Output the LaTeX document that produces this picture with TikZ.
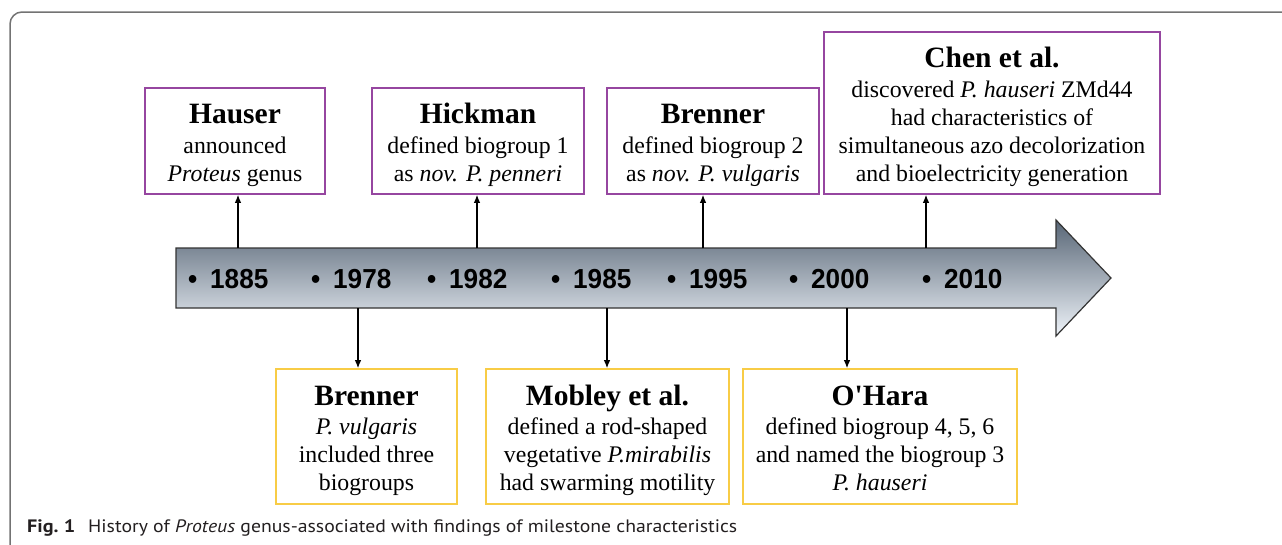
\documentclass[tikz,border=0pt]{standalone}
\usepackage{fontspec}
\setmainfont{Liberation Serif}[Ligatures=TeXOff]
\newfontfamily\yrfont{Liberation Sans}
\newfontfamily\capfont{PT Sans}
\usetikzlibrary{arrows.meta}
\definecolor{pborder}{RGB}{150,70,160}
\definecolor{yborder}{RGB}{248,204,70}
\definecolor{framegray}{RGB}{115,115,115}
\definecolor{arrowdark}{RGB}{88,102,118}
\definecolor{arrowlight}{RGB}{238,243,249}
\definecolor{capblack}{RGB}{35,31,32}
\newcommand\boxtitle[1]{\rule{0pt}{35pt}{\fontsize{29.5}{30}\selectfont\bfseries #1}}
\newcommand\btmtitle[1]{\rule{0pt}{36pt}{\fontsize{29.5}{30}\selectfont\bfseries #1}}
\newcommand\lastln[1]{\rule[-#1pt]{0pt}{#1pt}}
\newcommand\yr[1]{\scalebox{0.95}[1]{\yrfont\bfseries\fontsize{27.5}{30}\selectfont •\hspace{0.5em}#1}}
\begin{document}
\begin{tikzpicture}[x=1pt,y=-1pt,
  box/.style={draw, line width=1.6pt, inner sep=0pt, align=center, font=\fontsize{23.8}{28}\selectfont},
  pbox/.style={box, draw=pborder},
  ybox/.style={box, draw=yborder},
  conn/.style={line width=1.2pt, -{Latex[length=8pt,width=6.5pt]}},
  yrlabel/.style={anchor=base west, inner sep=0pt}]
\useasboundingbox (0,0) rectangle (1282,544);
% outer frame
\draw[framegray, line width=1.5pt, rounded corners=12pt] (1295,12) -- (10,12) -- (10,560);
% timeline arrow
\path[shade, top color=arrowdark, bottom color=arrowlight, draw=black!80, line width=1.2pt]
  (176,248) -- (1056,248) -- (1056,220) -- (1111,278) -- (1056,336) -- (1056,308) -- (176,308) -- cycle;
% years
\node[yrlabel] (y1885) at (187.8,288) {\yr{1885}};
\node[yrlabel] (y1978) at (310.8,288) {\yr{1978}};
\node[yrlabel] (y1982) at (426.8,288) {\yr{1982}};
\node[yrlabel] (y1985) at (550.8,288) {\yr{1985}};
\node[yrlabel] (y1995) at (666.8,288) {\yr{1995}};
\node[yrlabel] (y2000) at (788.8,288) {\yr{2000}};
\node[yrlabel] (y2010) at (921.8,288) {\yr{2010}};
% connector anchors on the timeline
\coordinate (c1885) at (238,248);
\coordinate (c1982) at (477,248);
\coordinate (c1995) at (703,248);
\coordinate (c2010) at (926,248);
\coordinate (c1978) at (358,308);
\coordinate (c1985) at (607,308);
\coordinate (c2000) at (847,308);
% top boxes
\node[pbox, minimum width=180pt, minimum height=106pt] (hauser) at (235,141)
  {\boxtitle{Hauser}\\[2pt] announced\\ \textit{Proteus} genus\lastln{12}};
\node[pbox, minimum width=212pt, minimum height=106pt] (hickman) at (478,141)
  {\boxtitle{Hickman}\\[2pt] defined biogroup 1\\ as \textit{nov. P. penneri}\lastln{12}};
\node[pbox, minimum width=212pt, minimum height=106pt] (brennera) at (713,141)
  {\boxtitle{Brenner}\\[2pt] defined biogroup 2\\ as \textit{nov. P. vulgaris}\lastln{12}};
\node[pbox, minimum width=336pt, minimum height=162pt] (chen) at (992,113)
  {\boxtitle{Chen et al.}\\[2pt] discovered \textit{P. hauseri} ZMd44\\ had characteristics of\\ simultaneous azo decolorization\\ and bioelectricity generation\lastln{12}};
% bottom boxes
\node[ybox, minimum width=181pt, minimum height=135pt] (brennerb) at (366.5,436.5)
  {\btmtitle{Brenner}\\[1pt] \textit{P. vulgaris}\\ included three\\ biogroups\lastln{14}};
\node[ybox, minimum width=243pt, minimum height=135pt] (mobley) at (607.5,436.5)
  {\btmtitle{Mobley et al.}\\[1pt] defined a rod-shaped\\ vegetative \textit{P.mirabilis}\\ had swarming motility\lastln{14}};
\node[ybox, minimum width=274pt, minimum height=135pt] (ohara) at (880,436.5)
  {\btmtitle{O'Hara}\\[1pt] defined biogroup 4, 5, 6\\ and named the biogroup 3\\ \textit{P. hauseri}\lastln{14}};
% connectors
\draw[conn] (c1885) -- (c1885 |- hauser.south);
\draw[conn] (c1982) -- (c1982 |- hickman.south);
\draw[conn] (c1995) -- (c1995 |- brennera.south);
\draw[conn] (c2010) -- (c2010 |- chen.south);
\draw[conn] (c1978) -- (c1978 |- brennerb.north);
\draw[conn] (c1985) -- (c1985 |- mobley.north);
\draw[conn] (c2000) -- (c2000 |- ohara.north);
% caption
\node[anchor=base west, inner sep=0pt, text=capblack] (caption) at (27,532)
  {\capfont\fontsize{18}{20}\selectfont\resizebox{48pt}{\height}{\bfseries Fig.~1}\hspace{13pt}\resizebox{649pt}{\height}{History of \textit{Proteus} genus-associated with findings of milestone characteristics}};
\end{tikzpicture}
\end{document}
